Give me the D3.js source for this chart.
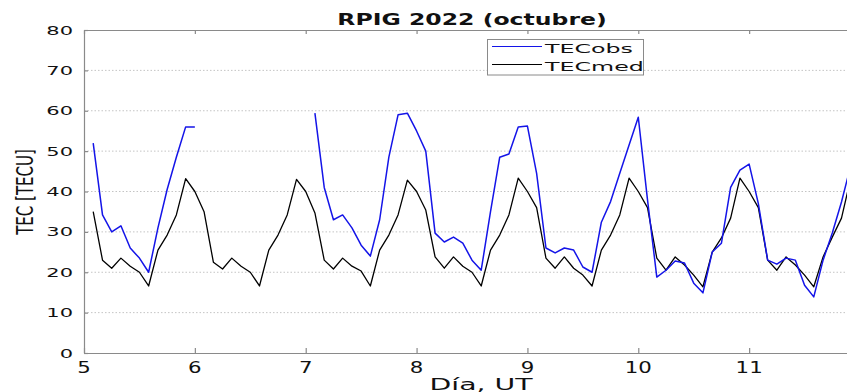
<!DOCTYPE html>
<html><head><meta charset="utf-8">
<script src="https://cdnjs.cloudflare.com/ajax/libs/d3/7.8.5/d3.min.js"></script>
<style>body{margin:0;background:#fff}svg{display:block}</style>
</head><body>
<svg id="c" width="847" height="392"></svg>
<script>
// ---- DATA ----
const titulo = "RPIG 2022 (octubre)";
const etiquetaX = "Día, UT";
const etiquetaY = "TEC [TECU]";
const series = ["TECobs", "TECmed"];
const xTicks = [5, 6, 7, 8, 9, 10, 11];
const yTicks = [0, 10, 20, 30, 40, 50, 60, 70, 80];
const dias = [
  5.083,5.167,5.25,5.333,5.417,5.5,5.583,5.667,5.75,5.833,5.917,6,
  6.083,6.167,6.25,6.333,6.417,6.5,6.583,6.667,6.75,6.833,6.917,7,
  7.083,7.167,7.25,7.333,7.417,7.5,7.583,7.667,7.75,7.833,7.917,8,
  8.083,8.167,8.25,8.333,8.417,8.5,8.583,8.667,8.75,8.833,8.917,9,
  9.083,9.167,9.25,9.333,9.417,9.5,9.583,9.667,9.75,9.833,9.917,10,
  10.083,10.167,10.25,10.333,10.417,10.5,10.583,10.667,10.75,10.833,10.917,11,
  11.083,11.167,11.25,11.333,11.417,11.5,11.583,11.667,11.75,11.833,11.917,12
];
const tecObs = [
  52,34.2,30,31.5,26,23.5,20,31,40.5,48.5,56,56,
  null,null,null,null,null,null,null,null,null,null,null,null,
  59.4,41,33,34.2,31,26.7,24,33,48.5,59,59.4,55,
  50,29.7,27.5,28.7,27.2,23,20.5,35,48.5,49.3,56,56.2,
  44.5,26,24.8,26,25.5,21.3,20,32.4,37.5,44.5,51.5,58.4,
  38,18.8,20.5,22.8,22.3,17.3,14.9,25,27.2,41,45.3,46.8,
  37,23,22,23.5,23,16.8,13.9,23,29.7,37.4,46.5,48
];
const tecMed = [
  35,23,21,23.5,21.5,20,16.6,25.5,29.2,34.2,43.2,40,
  35,22.5,20.8,23.5,21.5,20,16.6,25.5,29.2,34.2,43,40,
  34.7,23,20.8,23.5,21.5,20.3,16.6,25.5,29.2,34.2,42.8,40,
  35.4,23.8,21,23.8,21.5,20,16.6,25.5,29.2,34.2,43.3,40,
  36,23.5,21,23.8,21,19.3,16.6,25.5,29.2,34.2,43.3,40,
  36,23.5,20.5,23.8,21.8,19.3,16.4,25,28.5,33.4,43.3,40,
  36,23,20.5,23.8,21.8,19.3,16.4,23.8,28.7,33.4,43.3,40
];

// ---- LAYOUT ----
const svg = d3.select("#c");
const L = 84, R = 860, T = 30, B = 353;
const x = d3.scaleLinear().domain([5, 12]).range([L, R]);
const y = d3.scaleLinear().domain([0, 80]).range([B, T]);
const FONT = "DejaVu Sans";
const axisCol = "#8a8a8a";

svg.append("rect").attr("width", 847).attr("height", 392).attr("fill", "#fff");

// stretched text helper
function txt(g, s, px, py, size, anchor, sx, weight) {
  return g.append("text").text(s)
    .attr("transform", `translate(${px},${py}) scale(${sx},1)`)
    .attr("text-anchor", anchor)
    .attr("font-family", FONT).attr("font-size", size)
    .attr("font-weight", weight || "normal").attr("fill", "#111");
}

// grid
svg.append("g").selectAll("line").data(yTicks.filter(v => v > 0 && v < 80)).join("line")
  .attr("x1", L).attr("x2", R).attr("y1", d => y(d)).attr("y2", d => y(d))
  .attr("stroke", "#c4c4c4").attr("stroke-width", 1).attr("stroke-dasharray", "1.5,2");

// axes via d3 axis
const gx = svg.append("g").attr("transform", `translate(0,${B})`)
  .call(d3.axisBottom(x).tickValues(xTicks).tickSizeInner(-5).tickSizeOuter(0).tickFormat(""));
const gxt = svg.append("g").attr("transform", `translate(0,${T})`)
  .call(d3.axisTop(x).tickValues(xTicks).tickSizeInner(-4).tickSizeOuter(0).tickFormat(""));
const gy = svg.append("g").attr("transform", `translate(${L},0)`)
  .call(d3.axisLeft(y).tickValues(yTicks).tickSizeInner(-4).tickSizeOuter(0).tickFormat(""));
[gx, gxt, gy].forEach(g => {
  g.select(".domain").attr("stroke", axisCol).attr("stroke-width", 1.2);
  g.selectAll(".tick line").attr("stroke", axisCol).attr("stroke-width", 1.2);
});

// tick labels
const labs = svg.append("g");
yTicks.forEach(v => txt(labs, String(v), 73, y(v) + 4.5, 12, "end", 1.75));
xTicks.forEach(v => txt(labs, String(v), x(v), 373, 15, "middle", 1.42));

// lines
const clip = svg.append("clipPath").attr("id", "pc").append("rect")
  .attr("x", L).attr("y", T).attr("width", R - L).attr("height", B - T);
const mk = arr => d3.line().defined((d, i) => arr[i] != null)
  .x((d, i) => x(dias[i])).y((d, i) => y(arr[i]));
const pg = svg.append("g").attr("clip-path", "url(#pc)");
pg.append("path").datum(tecMed).attr("d", mk(tecMed)(tecMed))
  .attr("fill", "none").attr("stroke", "#000").attr("stroke-width", 1.3).attr("stroke-linejoin", "round");
pg.append("path").datum(tecObs).attr("d", mk(tecObs)(tecObs))
  .attr("fill", "none").attr("stroke", "#1414e8").attr("stroke-width", 1.5).attr("stroke-linejoin", "round");

// title & labels
txt(svg, titulo, 472, 25, 15, "middle", 1.57, "bold");
txt(svg, etiquetaX, 481, 390, 16, "middle", 1.77);
svg.append("text").text(etiquetaY)
  .attr("transform", "translate(33,192) scale(1.55,1) rotate(-90)")
  .attr("text-anchor", "middle").attr("font-family", FONT).attr("font-size", 15).attr("fill", "#111");

// legend
const lg = svg.append("g");
lg.append("rect").attr("x", 487.5).attr("y", 39.5).attr("width", 156).attr("height", 35.5)
  .attr("fill", "#fff").attr("stroke", axisCol).attr("stroke-width", 1);
const cols = ["#1414e8", "#000"];
series.forEach((s, i) => {
  const yy = 46.5 + i * 18;
  lg.append("line").attr("x1", 492).attr("x2", 542).attr("y1", yy).attr("y2", yy)
    .attr("stroke", cols[i]).attr("stroke-width", 1);
  txt(lg, s, 545, yy + 6.3, 12.3, "start", 1.93);
});
</script>
</body></html>
